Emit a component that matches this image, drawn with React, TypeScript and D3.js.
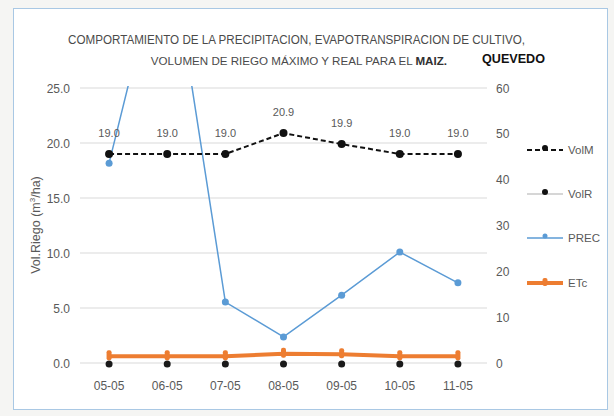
import React, { useRef, useEffect } from 'react';
import * as d3 from 'd3';

// data
const fechas = ['05-05', '06-05', '07-05', '08-05', '09-05', '10-05', '11-05'];
const volM = [19.0, 19.0, 19.0, 20.9, 19.9, 19.0, 19.0];
const volR = [0, 0, 0, 0, 0, 0, 0];
const prec = [43.6, 95, 13.3, 5.7, 14.8, 24.2, 17.5];
const etc = [1.5, 1.5, 1.5, 2.0, 1.9, 1.5, 1.5];
const leftTicks = [0, 5, 10, 15, 20, 25];
const rightTicks = [0, 10, 20, 30, 40, 50, 60];

const FONT = "'Liberation Sans', Arial, sans-serif";

const App: React.FC = () => {
  const svgRef = useRef<SVGSVGElement | null>(null);

  useEffect(() => {
    if (!svgRef.current) return;
    document.body.style.margin = '0';

    d3.select(svgRef.current).selectAll('*').remove();

    const width = 614;
    const height = 416;
    const svg = d3.select(svgRef.current).attr('width', width).attr('height', height);

    const x = d3.scaleBand<string>().domain(fechas).range([80, 487]);
    const cx = (d: string) => (x(d) as number) + x.bandwidth() / 2;
    const yL = d3.scaleLinear().domain([0, 25]).range([363, 88]);
    const yR = d3.scaleLinear().domain([0, 60]).range([363, 88]);

    // background + frame
    svg.append('rect').attr('width', width).attr('height', height).attr('fill', '#f5f5f3');
    svg
      .append('rect')
      .attr('x', 13.5)
      .attr('y', 8.5)
      .attr('width', 594)
      .attr('height', 401)
      .attr('fill', '#ffffff')
      .attr('stroke', '#a9c8e4');

    // title (condensed font in the original, squeezed with textLength)
    svg
      .append('text')
      .attr('x', 68)
      .attr('y', 44)
      .attr('textLength', 457)
      .attr('lengthAdjust', 'spacingAndGlyphs')
      .attr('font-family', FONT)
      .attr('font-size', 12.5)
      .attr('fill', '#4a4a4a')
      .text('COMPORTAMIENTO DE LA PRECIPITACION, EVAPOTRANSPIRACION DE CULTIVO,');
    const t2 = svg
      .append('text')
      .attr('x', 447)
      .attr('y', 65)
      .attr('text-anchor', 'end')
      .attr('font-family', FONT)
      .attr('font-size', 11.6)
      .attr('fill', '#4a4a4a');
    t2.append('tspan').text('VOLUMEN DE RIEGO MÁXIMO Y REAL PARA EL ');
    t2.append('tspan').attr('font-weight', 'bold').attr('fill', '#303030').text('MAIZ.');
    svg
      .append('text')
      .attr('x', 482)
      .attr('y', 63)
      .attr('textLength', 63)
      .attr('lengthAdjust', 'spacingAndGlyphs')
      .attr('font-family', FONT)
      .attr('font-size', 13.5)
      .attr('font-weight', 'bold')
      .attr('fill', '#111')
      .text('QUEVEDO');

    // gridlines
    svg
      .append('g')
      .selectAll('line')
      .data(leftTicks)
      .join('line')
      .attr('x1', 80)
      .attr('x2', 487)
      .attr('y1', (d) => yL(d))
      .attr('y2', (d) => yL(d))
      .attr('stroke', '#d9d9d9')
      .attr('stroke-width', 1);

    // left axis labels
    svg
      .append('g')
      .selectAll('text')
      .data(leftTicks)
      .join('text')
      .attr('x', 70)
      .attr('y', (d) => yL(d) + 4.5)
      .attr('text-anchor', 'end')
      .attr('font-family', FONT)
      .attr('font-size', 12)
      .attr('fill', '#595959')
      .text((d) => d.toFixed(1));

    // right axis labels
    svg
      .append('g')
      .selectAll('text')
      .data(rightTicks)
      .join('text')
      .attr('x', 496)
      .attr('y', (d) => yR(d) + 4.5)
      .attr('font-family', FONT)
      .attr('font-size', 12)
      .attr('fill', '#595959')
      .text((d) => String(d));

    // x labels
    svg
      .append('g')
      .selectAll('text')
      .data(fechas)
      .join('text')
      .attr('x', (d) => cx(d))
      .attr('y', 390)
      .attr('text-anchor', 'middle')
      .attr('font-family', FONT)
      .attr('font-size', 12)
      .attr('fill', '#595959')
      .text((d) => d);

    // y axis title
    const yt = svg
      .append('text')
      .attr('transform', 'translate(40,225) rotate(-90)')
      .attr('text-anchor', 'middle')
      .attr('font-family', FONT)
      .attr('font-size', 12.5)
      .attr('fill', '#595959');
    yt.append('tspan').text('Vol.Riego (m');
    yt.append('tspan').attr('font-size', 8).attr('dy', -5).text('3');
    yt.append('tspan').attr('dy', 5).text('/ha)');

    svg
      .append('defs')
      .append('clipPath')
      .attr('id', 'plotClip')
      .append('rect')
      .attr('x', 60)
      .attr('y', 86)
      .attr('width', 440)
      .attr('height', 300);

    const idx = d3.range(fechas.length);

    // PREC (right axis)
    const precLine = d3
      .line<number>()
      .x((i) => cx(fechas[i]))
      .y((i) => yR(prec[i]));
    svg
      .append('path')
      .attr('clip-path', 'url(#plotClip)')
      .attr('d', precLine(idx))
      .attr('fill', 'none')
      .attr('stroke', '#5b9bd5')
      .attr('stroke-width', 1.5);
    svg
      .append('g')
      .attr('clip-path', 'url(#plotClip)')
      .selectAll('circle')
      .data(idx)
      .join('circle')
      .attr('cx', (i) => cx(fechas[i]))
      .attr('cy', (i) => yR(prec[i]))
      .attr('r', 3.5)
      .attr('fill', '#5b9bd5');

    // VolR (left axis)
    svg
      .append('g')
      .selectAll('circle')
      .data(idx)
      .join('circle')
      .attr('cx', (i) => cx(fechas[i]))
      .attr('cy', (i) => yL(volR[i]) + 1)
      .attr('r', 3.5)
      .attr('fill', '#1a1a1a');

    // ETc (right axis)
    const etcLine = d3
      .line<number>()
      .x((i) => cx(fechas[i]))
      .y((i) => yR(etc[i]));
    svg
      .append('path')
      .attr('d', etcLine(idx))
      .attr('fill', 'none')
      .attr('stroke', '#ed7d31')
      .attr('stroke-width', 4);
    svg
      .append('g')
      .selectAll('rect')
      .data(idx)
      .join('rect')
      .attr('x', (i) => cx(fechas[i]) - 2.5)
      .attr('y', (i) => yR(etc[i]) - 6)
      .attr('width', 5)
      .attr('height', 10)
      .attr('rx', 2)
      .attr('fill', '#ed7d31');

    // VolM (left axis)
    const volMLine = d3
      .line<number>()
      .x((i) => cx(fechas[i]))
      .y((i) => yL(volM[i]));
    svg
      .append('path')
      .attr('d', volMLine(idx))
      .attr('fill', 'none')
      .attr('stroke', '#111')
      .attr('stroke-width', 2)
      .attr('stroke-dasharray', '5,3');
    svg
      .append('g')
      .selectAll('circle')
      .data(idx)
      .join('circle')
      .attr('cx', (i) => cx(fechas[i]))
      .attr('cy', (i) => yL(volM[i]))
      .attr('r', 4)
      .attr('fill', '#111');
    svg
      .append('g')
      .selectAll('text')
      .data(idx)
      .join('text')
      .attr('x', (i) => cx(fechas[i]))
      .attr('y', (i) => yL(volM[i]) - 17)
      .attr('text-anchor', 'middle')
      .attr('font-family', FONT)
      .attr('font-size', 11)
      .attr('fill', '#595959')
      .text((i) => volM[i].toFixed(1));

    // legend
    const legend = [
      { name: 'VolM', color: '#111', dash: '5,3', w: 2, y: 150 },
      { name: 'VolR', color: '#c8c8c8', dash: null, w: 1.5, y: 194 },
      { name: 'PREC', color: '#5b9bd5', dash: null, w: 1.5, y: 238 },
      { name: 'ETc', color: '#ed7d31', dash: null, w: 4, y: 283 },
    ];
    const lg = svg.append('g');
    legend.forEach((l, k) => {
      lg.append('line')
        .attr('x1', 527)
        .attr('x2', 563)
        .attr('y1', l.y)
        .attr('y2', l.y)
        .attr('stroke', l.color)
        .attr('stroke-width', l.w)
        .attr('stroke-dasharray', l.dash);
      if (k === 3) {
        lg.append('rect').attr('x', 542.5).attr('y', l.y - 5).attr('width', 5).attr('height', 8).attr('rx', 2).attr('fill', l.color);
      } else {
        lg.append('circle')
          .attr('cx', 545)
          .attr('cy', l.y - 2)
          .attr('r', k === 2 ? 2.5 : 3)
          .attr('fill', k === 2 ? l.color : '#111');
      }
      lg.append('text')
        .attr('x', 568)
        .attr('y', l.y + 4)
        .attr('font-family', FONT)
        .attr('font-size', 11.5)
        .attr('fill', '#595959')
        .text(l.name);
    });
  }, []);

  return <svg ref={svgRef} style={{ display: 'block' }}></svg>;
};

export default App;
